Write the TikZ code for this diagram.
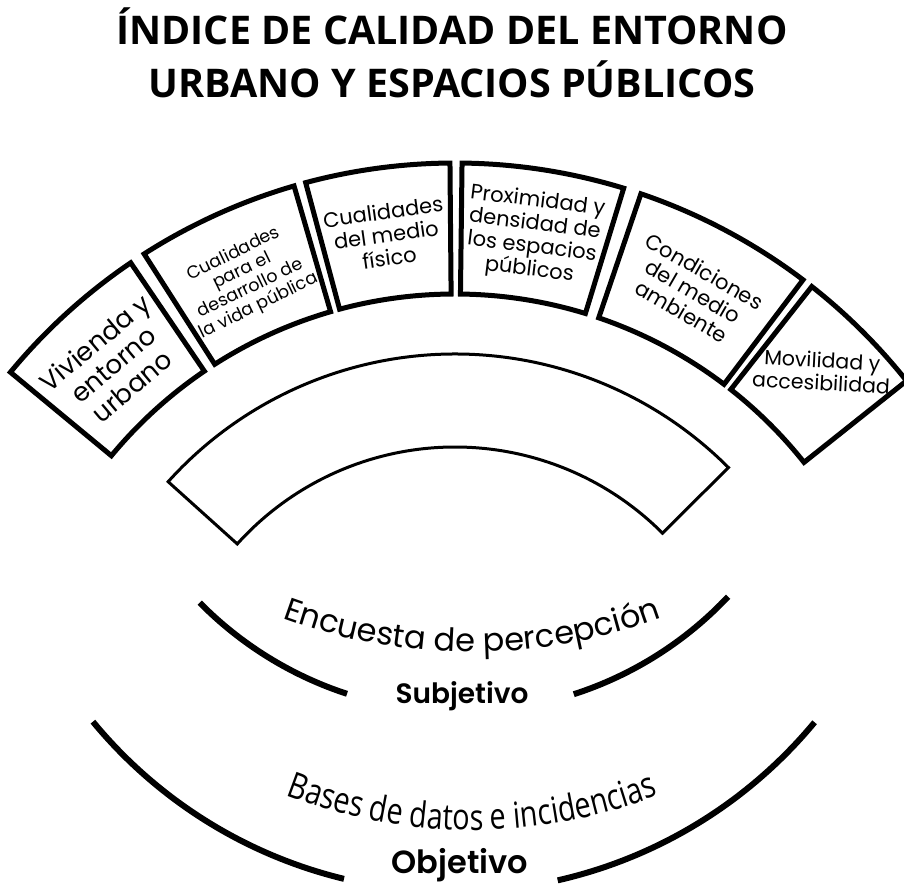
\documentclass[tikz,border=0pt]{standalone}
\usepackage{fontspec}
\usetikzlibrary{decorations.text}
\newfontfamily\titlefont{Open Sans}
\newfontfamily\labelfont{Poppins}
\newfontfamily\tagfont{Poppins}[UprightFont={* SemiBold}]
\newfontfamily\condfont{Open Sans}[FakeStretch=0.8]

\begin{document}
\begin{tikzpicture}[x=1pt, y=1pt,
    boxline/.style={line width=5pt},
    bandline/.style={line width=3pt},
    tagline/.style={line width=6pt},
    boxlabel/.style={align=center, inner sep=0pt},
    titletext/.style={anchor=base, font=\titlefont\bfseries\fontsize{39.5}{40}\selectfont},
    tagtext/.style={anchor=base, inner sep=1pt, font=\tagfont\fontsize{#1}{#1}\selectfont}]

    % Page frame and centres
    \useasboundingbox (0,0) rectangle (904,888);
    \coordinate (C) at (455,148);
    \coordinate (S) at (461,543);
    \coordinate (O) at (454,464);

    % Title
    \node[titletext] (title1) at (452,843) {ÍNDICE DE CALIDAD DEL ENTORNO};
    \node[titletext] (title2) at (452,790) {URBANO Y ESPACIOS PÚBLICOS};

    % Dimension boxes of the index
    \foreach \a/\b/\rr/\rt/\fs/\nm/\txt in {
        124.2/140.4/508/40/26/vivienda/{Vivienda y\\entorno\\urbano},
        106.2/122.6/505/26/17.5/vidapub/{Cualidades\\para el\\desarrollo de\\la vida pública},
        90.5/105.0/510/8/21/medio/{Cualidades\\del medio\\físico},
        73.0/89.3/510/-7/21/proxim/{Proximidad y\\densidad de\\los espacios\\públicos},
        52.9/71.2/508/-30/21/ambiente/{Condiciones\\del medio\\ambiente},
        38.5/51.8/520/-3/20.5/movil/{Movilidad y\\accesibilidad}} {
        \pgfmathsetmacro{\midang}{(\a+\b)/2}
        \pgfmathsetmacro{\ls}{1.1*\fs}
        \draw[boxline, shift={(C)}] (\a:446) arc[start angle=\a, end angle=\b, radius=446]
            -- (\b:577) arc[start angle=\b, end angle=\a, radius=577] -- cycle;
        \path (C) ++(\midang:\rr) node[boxlabel, rotate=\rt, font=\labelfont\fontsize{\fs}{\ls}\selectfont] (\nm) {\txt};
    }

    % Empty inner band
    \draw[bandline, shift={(C)}] (44.9:293) arc[start angle=44.9, end angle=138, radius=293]
        -- (138:386) arc[start angle=138, end angle=44.9, radius=386] -- cycle;

    % Subjective source
    \path[decorate, decoration={text along path, text align=center,
        text={|\labelfont\fontsize{32}{32}\selectfont|Encuesta de percepción}}]
        (472,787) ++(235:551) arc[start angle=235, end angle=305, radius=551];
    \draw[tagline] (S) ++(224.6:367) arc[start angle=224.6, end angle=251.9, radius=367];
    \draw[tagline] (S) ++(287.9:367) arc[start angle=287.9, end angle=316.7, radius=367];
    \node[tagtext=28] (subj) at (462,184) {Subjetivo};

    % Objective source
    \path[decorate, decoration={text along path, text align=center,
        text={|\condfont\fontsize{36}{36}\selectfont|Bases de datos e incidencias}}]
        (472,575) ++(235:517) arc[start angle=235, end angle=305, radius=517];
    \draw[tagline] (O) ++(219.5:468) arc[start angle=219.5, end angle=256.4, radius=468];
    \draw[tagline] (O) ++(282.8:468) arc[start angle=282.8, end angle=320.4, radius=468];
    \node[tagtext=32] (obj) at (460,14) {Objetivo};

\end{tikzpicture}
\end{document}
